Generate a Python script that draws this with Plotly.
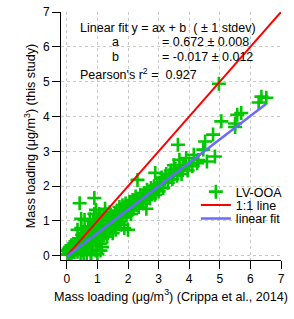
import plotly.graph_objects as go

# Scatter data: LV-OOA mass loading (Crippa et al., 2014) vs this study
crippa = [
    0.02, 0.05, 0.08, 0.10, 0.12, 0.15, 0.18, 0.20, 0.22, 0.25, 0.28, 0.30, 0.03, 0.06, 0.10, 0.15,
    0.32, 0.35, 0.38, 0.40, 0.42, 0.45, 0.48, 0.50, 0.52, 0.55, 0.58, 0.60, 0.35, 0.40, 0.50, 0.45,
    0.55, 0.60, 0.35, 0.47, 0.58, 0.47, 0.42, 0.90,
    0.62, 0.65, 0.68, 0.70, 0.72, 0.75, 0.78, 0.80, 0.82, 0.85, 0.88, 0.90, 0.92, 0.95, 0.98, 1.00,
    0.70, 0.85, 0.90, 0.95, 0.75, 0.80, 1.00, 0.65, 0.88, 0.97,
    1.02, 1.05, 1.08, 1.10, 1.12, 1.15, 1.18, 1.20, 1.22, 1.25, 1.28, 1.30, 1.32, 1.35, 1.38, 1.40,
    1.42, 1.45, 1.48, 1.10, 1.15, 1.05, 1.25, 1.50,
    1.52, 1.55, 1.58, 1.60, 1.62, 1.65, 1.68, 1.70, 1.72, 1.75, 1.77, 1.80, 1.82, 1.85, 1.88, 1.90,
    1.92, 1.95, 2.00, 1.98,
    2.02, 2.05, 2.08, 2.10, 2.15, 2.18, 2.20, 2.25, 2.28, 2.31, 2.32, 2.35, 2.40, 2.42, 2.45, 2.50,
    2.52, 2.55, 2.60, 2.62, 2.65, 2.70, 2.72, 2.75, 2.80, 2.85, 2.89, 2.88, 2.90, 2.95, 3.00, 2.60,
    3.05, 3.10, 3.15, 3.20, 3.25, 3.30, 3.35, 3.40, 3.45, 3.50, 3.50, 3.55, 3.60, 3.63, 3.65, 3.68,
    3.70, 3.75, 3.79, 3.85, 3.90, 3.95, 4.00,
    4.10, 4.15, 4.26, 4.30, 4.46, 4.52, 4.58, 4.78, 4.84, 4.97, 5.05, 5.50, 5.57, 5.70, 5.50, 6.27,
    6.36, 6.52,
]
this_study = [
    0.05, 0.03, 0.10, 0.06, 0.15, 0.08, 0.20, 0.12, 0.25, 0.10, 0.18, 0.30, 0.15, 0.20, 0.25, 0.30,
    0.20, 0.12, 0.28, 0.38, 0.22, 0.45, 0.30, 0.15, 0.40, 0.55, 0.32, 0.25, 0.40, 0.50, 0.60, 0.08,
    0.05, 0.45, 0.75, 0.80, 1.03, 1.06, 1.51, 1.66,
    0.60, 0.40, 0.20, 0.70, 0.50, 0.35, 0.08, 0.80, 0.55, 0.30, 0.65, 0.90, 0.45, 0.15, 0.75, 0.55,
    0.85, 1.00, 1.20, 1.32, 1.05, 0.02, 0.05, 0.05, 0.95, 1.05,
    1.00, 0.70, 0.35, 1.09, 0.80, 0.50, 0.90, 1.15, 0.60, 0.75, 1.20, 0.85, 0.55, 1.00, 0.70, 1.25,
    0.90, 1.05, 0.80, 0.15, 0.25, 1.20, 1.35, 0.65,
    1.10, 0.95, 1.20, 0.75, 1.05, 1.30, 0.90, 1.15, 1.40, 1.00, 0.89, 1.20, 1.45, 1.10, 0.80, 1.30,
    1.50, 1.15, 0.75, 1.35,
    1.30, 1.55, 1.40, 1.20, 1.60, 1.35, 1.50, 1.70, 1.45, 2.18, 1.60, 1.40, 1.75, 1.55, 1.65, 1.50,
    1.80, 1.70, 1.60, 1.90, 1.75, 1.85, 1.65, 1.95, 1.80, 2.00, 2.38, 1.75, 1.90, 2.05, 1.85, 1.35,
    2.10, 2.25, 1.95, 2.20, 2.35, 2.10, 2.30, 2.45, 2.20, 2.60, 2.35, 2.50, 2.30, 3.19, 2.45, 2.76,
    2.50, 2.35, 2.52, 2.60, 2.81, 2.45, 2.65,
    2.57, 2.90, 2.66, 2.75, 3.05, 3.28, 2.71, 3.48, 2.85, 4.94, 3.86, 3.80, 4.05, 4.10, 3.70, 4.40,
    4.57, 4.54,
]

# Reference lines
one_to_one_x = [0, 7]
one_to_one_y = [0, 7]
fit_slope = 0.672
fit_intercept = -0.017
fit_x = [0, 6.5]
fit_y = [fit_slope * v + fit_intercept for v in fit_x]

tick_vals = [0, 1, 2, 3, 4, 5, 6, 7]

FONT = "Arial, Liberation Sans, sans-serif"

fig = go.Figure()
fig.add_trace(go.Scatter(
    x=crippa, y=this_study, mode="markers", name="LV-OOA", legend="legend",
    marker=dict(symbol="cross-thin", size=10, line=dict(color="#00C800", width=2.6), color="#00C800"),
))
fig.add_trace(go.Scatter(
    x=one_to_one_x, y=one_to_one_y, mode="lines", name="1:1 line", legend="legend2",
    line=dict(color="#FF0000", width=2),
))
fig.add_trace(go.Scatter(
    x=fit_x, y=fit_y, mode="lines", name="linear fit", legend="legend3",
    line=dict(color="#6A6AFF", width=2.5),
))

axis_common = dict(
    tickvals=tick_vals, showgrid=True, gridcolor="#C8C8C8", griddash="dot", gridwidth=1,
    zeroline=False, showline=True, linecolor="black", linewidth=1,
    ticks="outside", ticklen=8, tickcolor="black", tickwidth=1,
    tickfont=dict(family=FONT, size=12, color="black"),
)

leg_common = dict(x=0.613, xanchor="left", yanchor="middle", bgcolor="rgba(0,0,0,0)",
                  font=dict(family=FONT, size=12.5), itemwidth=30, borderwidth=0)

fig.update_layout(
    width=294, height=319,
    margin=dict(l=61, r=6, t=12, b=59),
    paper_bgcolor="white", plot_bgcolor="white",
    font=dict(family=FONT, size=12, color="black"),
    showlegend=True,
    legend=dict(y=0.274, **leg_common),
    legend2=dict(y=0.220, **leg_common),
    legend3=dict(y=0.166, **leg_common),
    xaxis=dict(range=[-0.19, 7], title=dict(text="Mass loading (μg/m<sup>3</sup>) (Crippa et al., 2014)",
                                              font=dict(family=FONT, size=12.6), standoff=6),
               **axis_common),
    yaxis=dict(range=[-0.12, 7], title=dict(text="Mass loading (μg/m<sup>3</sup>) (this study)",
                                              font=dict(family=FONT, size=12.6), standoff=4),
               **axis_common),
)

# white backdrop behind the legend (covers grid lines, like the original)
fig.add_shape(type="rect", xref="paper", yref="paper", x0=0.63, x1=1.0, y0=0.145, y1=0.30,
              fillcolor="white", line=dict(width=0), layer="between")

ann_font = dict(family=FONT, size=12.5, color="black")
fig.add_annotation(x=0.35, y=6.55, xref="x", yref="y", xanchor="left", showarrow=False,
                   text="Linear fit y = ax + b  ( ± 1 stdev)", font=ann_font)
fig.add_annotation(x=1.6, y=6.15, xref="x", yref="y", xanchor="center", showarrow=False,
                   text="a", font=ann_font)
fig.add_annotation(x=3.05, y=6.15, xref="x", yref="y", xanchor="left", showarrow=False,
                   text="= 0.672 ± 0.008", font=ann_font)
fig.add_annotation(x=1.6, y=5.72, xref="x", yref="y", xanchor="center", showarrow=False,
                   text="b", font=ann_font)
fig.add_annotation(x=3.05, y=5.72, xref="x", yref="y", xanchor="left", showarrow=False,
                   text="= -0.017 ± 0.012", font=ann_font)
fig.add_annotation(x=0.35, y=5.23, xref="x", yref="y", xanchor="left", showarrow=False,
                   text="Pearson's r<sup>2</sup> =  0.927", font=ann_font)

fig.write_html("out.html", config={"displayModeBar": False},
               post_script="document.body.style.margin='0';document.body.style.overflow='hidden';")
